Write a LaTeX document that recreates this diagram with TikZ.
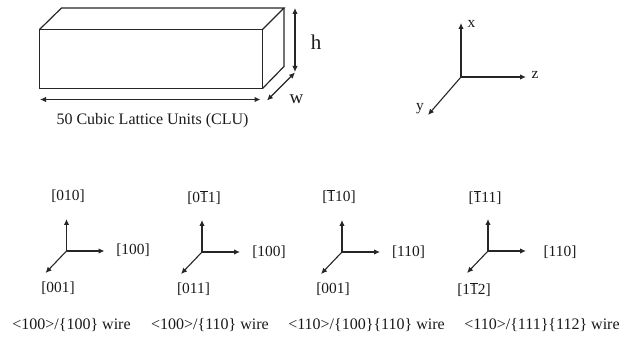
\documentclass[tikz,border=0pt]{standalone}
\usepackage{fontspec}
\setmainfont{Liberation Serif}
\usetikzlibrary{arrows.meta}
\newcommand\ovbar[1]{\vbox{\hrule height .7pt \kern 1pt\hbox{#1}}}
\tikzset{
 edge/.style={line width=1.1pt,black!85},
 wire/.style={line width=1.2pt,black!85,line join=miter},
 arr/.style={edge,-{Latex[length=6pt,width=5.5pt]}},
 dbl/.style={edge,{Latex[length=6pt,width=5.5pt]}-{Latex[length=6pt,width=5.5pt]}},
 lab/.style={inner sep=0pt,font=\fontsize{15.4}{18}\selectfont,text=black!90},
 captxt/.style={inner sep=0pt,font=\fontsize{16}{18}\selectfont,text=black!90},
}
\newcommand\triad[3]{%
 \coordinate (#1o) at (#2,#3);
 \coordinate (#1u) at (#2,#3-32);
 \coordinate (#1r) at (#2+38,#3);
 \coordinate (#1d) at (#2-21,#3+22);
 \draw[arr] (#1o) -- (#1u);
 \draw[arr] (#1o) -- (#1r);
 \draw[arr] (#1o) -- (#1d);
}
\begin{document}
\begin{tikzpicture}[x=1pt,y=-1pt]
\useasboundingbox (0,0) rectangle (632,339);
% box
\coordinate (fa) at (39.5,29.5);
\coordinate (fb) at (262.5,29.5);
\coordinate (fc) at (262.5,88.5);
\coordinate (fd) at (39.5,88.5);
\coordinate (ba) at (61.5,8);
\coordinate (bb) at (284,8);
\coordinate (bc) at (284,66.5);
\draw[wire] (fa) -- (fb) -- (fc) -- (fd) -- cycle;
\draw[wire] (fa) -- (ba) -- (bb) -- (fb);
\draw[wire] (bb) -- (bc) -- (fc);
% dimensions
\coordinate (ht) at (295,8);
\coordinate (hb) at (295,72);
\coordinate (wa) at (267,100.5);
\coordinate (wb) at (295,72.5);
\coordinate (la) at (40,99.5);
\coordinate (lb) at (260.5,99.5);
\draw[dbl] (ht) -- (hb);
\draw[dbl] (wa) -- (wb);
\draw[dbl] (la) -- (lb);
\node[inner sep=0pt,font=\fontsize{21}{23}\selectfont,text=black!90] (h) at (316,42) {h};
\node[inner sep=0pt,font=\fontsize{19}{21}\selectfont,text=black!90] (w) at (296.5,99.5) {w};
\node[captxt] (clu) at (152.5,120.5) {50 Cubic Lattice Units (CLU)};
% xyz axes
\coordinate (oo) at (461,77);
\coordinate (ox) at (461,23);
\coordinate (oz) at (526,77);
\coordinate (oy) at (428,115);
\draw[arr] (oo) -- (ox);
\draw[arr] (oo) -- (oz);
\draw[arr] (oo) -- (oy);
\node[lab] (lx) at (471.5,23.5) {x};
\node[lab] (lz) at (535,75) {z};
\node[lab] (ly) at (420,109) {y};
% triads
\triad{a}{66.5}{251}
\triad{b}{202}{252}
\triad{c}{342}{252}
\triad{d}{488}{251}
\node[lab] (a1) at (68,196.5) {[010]};
\node[lab] (a2) at (133,250.5) {[100]};
\node[lab] (a3) at (58,288) {[001]};
\node[lab] (b1) at (204,198) {[0\ovbar{1}1]};
\node[lab] (b2) at (269,252) {[100]};
\node[lab] (b3) at (193.5,289.5) {[011]};
\node[lab] (c1) at (339,196.5) {[\ovbar{1}10]};
\node[lab] (c2) at (408.5,252) {[110]};
\node[lab] (c3) at (333,289.5) {[001]};
\node[lab] (d1) at (485,198) {[\ovbar{1}11]};
\node[lab] (d2) at (560,252) {[110]};
\node[lab] (d3) at (474,290) {[1\ovbar{1}2]};
% captions
\node[captxt] (ca) at (71.5,325.5) {<100>/\{100\} wire};
\node[captxt] (cb) at (210,325.5) {<100>/\{110\} wire};
\node[captxt] (cc) at (366.5,325.5) {<110>/\{100\}\{110\} wire};
\node[captxt] (cd) at (542,325.5) {<110>/\{111\}\{112\} wire};
\end{tikzpicture}
\end{document}
